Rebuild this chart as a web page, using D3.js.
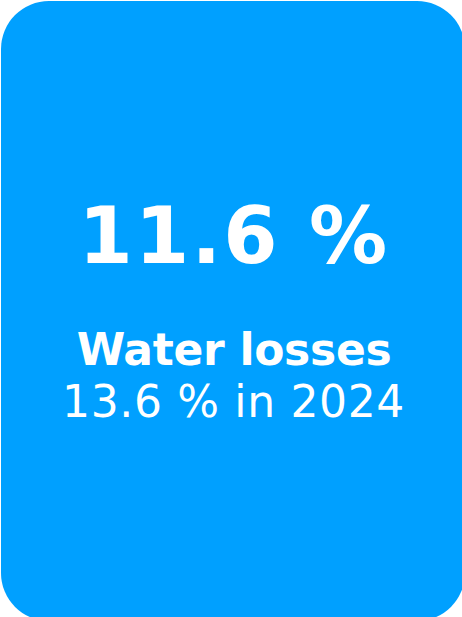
<!DOCTYPE html>
<html>
<head>
<meta charset="utf-8">
<script src="https://cdn.jsdelivr.net/npm/d3@7"></script>
<style>
  html, body { margin: 0; padding: 0; background: #fff; overflow: hidden; }
  svg { display: block; }
</style>
</head>
<body>
<div id="card"></div>
<script>
// KPI values
var kpiValue = [11.6];
var kpiLabel = ['Water losses'];
var prevValue = [13.6];
var prevYear = [2024];

var W = 462, H = 617;
var blue = '#00a0ff';

var svg = d3.select('#card').append('svg')
  .attr('width', W).attr('height', H);

// card background, bleeds off right and bottom edges
svg.append('rect')
  .attr('x', 1).attr('y', 1)
  .attr('width', 464).attr('height', 620)
  .attr('rx', 48).attr('ry', 48)
  .attr('fill', blue);

var cx = 233;
var font = '"DejaVu Sans", Verdana, sans-serif';

svg.append('text')
  .attr('x', cx + 1).attr('y', 263)
  .attr('text-anchor', 'middle')
  .attr('font-family', font).attr('font-weight', 'bold')
  .attr('font-size', 78).attr('fill', '#fff')
  .attr('letter-spacing', 2.2)
  .text(d3.format('.1f')(kpiValue[0]) + ' %');

svg.append('text')
  .attr('x', cx + 1).attr('y', 365)
  .attr('text-anchor', 'middle')
  .attr('font-family', font).attr('font-weight', 'bold')
  .attr('font-size', 44).attr('fill', '#fff')
  .attr('letter-spacing', -0.3)
  .text(kpiLabel[0]);

svg.append('text')
  .attr('x', cx + 0.5).attr('y', 417)
  .attr('text-anchor', 'middle')
  .attr('font-family', font)
  .attr('font-size', 44).attr('fill', '#fff')
  .attr('letter-spacing', 0.65)
  .text(d3.format('.1f')(prevValue[0]) + ' % in ' + prevYear[0]);
</script>
</body>
</html>
